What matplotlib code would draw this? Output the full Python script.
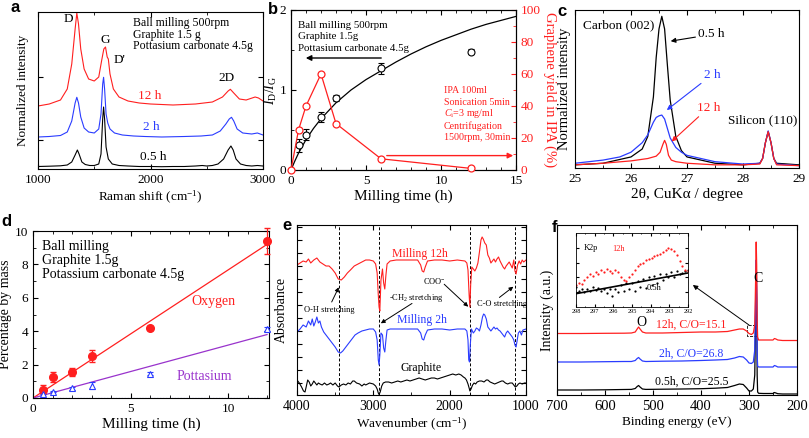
import matplotlib
matplotlib.use("Agg")
import matplotlib.pyplot as plt
import matplotlib.patches as patches
import numpy as np

plt.rcParams['font.family'] = ['Liberation Serif', 'DejaVu Serif']
plt.rcParams['mathtext.fontset'] = 'custom'
plt.rcParams['mathtext.rm'] = 'Liberation Serif'
plt.rcParams['mathtext.it'] = 'Liberation Serif:italic'
plt.rcParams['xtick.direction'] = 'in'
plt.rcParams['ytick.direction'] = 'in'
plt.rcParams['font.size'] = 9
plt.rcParams['axes.linewidth'] = 0.8

RED = '#ff1f1f'
BLUE = '#2a3cff'
PURPLE = '#9933cc'

# ---- (a) Raman spectra ----
raman_x_05 = [1000, 1100, 1200, 1260, 1300, 1330, 1350, 1365, 1390, 1420, 1460, 1500, 1540, 1560, 1575,
              1583, 1592, 1605, 1625, 1660, 1720, 1800, 1900, 2000, 2100, 2200, 2300, 2400, 2460, 2500,
              2550, 2600, 2650, 2690, 2715, 2735, 2760, 2800, 2850, 2900, 2950, 3000]
raman_y_05 = [2.5, 2.8, 3.2, 4, 7, 14, 19, 15, 7, 4.5, 3.5, 3.5, 5, 15, 50,
              62, 50, 22, 10, 5, 3.5, 3, 2.5, 2.5, 2.3, 2.5, 2.5, 3, 3.5, 3,
              3.5, 5, 10, 19, 23, 19, 10, 5, 3.5, 3, 3.5, 3]
raman_x_2 = [1000, 1100, 1200, 1260, 1300, 1330, 1345, 1360, 1380, 1410, 1450, 1500, 1540, 1560, 1575,
             1583, 1592, 1605, 1620, 1640, 1680, 1750, 1850, 1950, 2100, 2300, 2450, 2550, 2620, 2670,
             2700, 2720, 2740, 2770, 2820, 2900, 2950, 3000]
raman_y_2 = [32, 32.5, 33.5, 37, 48, 66, 71.7, 66, 52, 41, 37, 36, 40, 55, 85,
             91.7, 80, 55, 46, 40, 36, 34, 33, 32.5, 32, 32.5, 33, 34, 38, 45,
             50, 51.7, 48, 40, 36, 35, 36, 34]
raman_x_12 = [1000, 1100, 1200, 1260, 1300, 1330, 1345, 1360, 1380, 1410, 1450, 1500, 1540, 1565, 1585,
              1600, 1615, 1625, 1640, 1670, 1720, 1800, 1900, 2000, 2200, 2400, 2550, 2640, 2690, 2710,
              2740, 2790, 2850, 2930, 2960, 3000]
raman_y_12 = [63, 65, 69, 80, 105, 140, 156, 145, 120, 100, 90, 88, 92, 108, 120,
              122, 112, 110, 95, 80, 72, 68, 66, 65, 64, 65, 67, 72, 78, 79.7,
              76, 70, 69, 72, 71, 68]

# ---- (b) ID/IG and graphene yield ----
b_time = [0.5, 1, 2, 3, 6, 12]
b_idig = [0.31, 0.44, 0.66, 0.90, 1.27, 1.48]
b_idig_err = [0.08, 0.07, 0.06, 0.04, 0.07, 0.03]
b_fit_time = [0, 0.25, 0.5, 1, 1.5, 2, 3, 4, 5, 6, 7, 8, 9, 10, 11, 12, 13, 14, 15]
b_fit_idig = [0, 0.11, 0.21, 0.38, 0.52, 0.64, 0.84, 1.0, 1.13, 1.24, 1.35, 1.45, 1.54, 1.62, 1.69, 1.76,
              1.82, 1.87, 1.92]
b_yield_time = [0, 0.5, 1, 2, 3, 6, 12]
b_yield = [0, 25, 40, 60, 29, 7, 1]
b_conditions = ["Ball milling 500rpm", "Graphite 1.5g", "Pottasium carbonate 4.5g"]
b_ipa = ["IPA 100ml", "Sonication 5min", r"$C_\mathrm{i}$=3 mg/ml", "Centrifugation", "1500rpm, 30min"]

# ---- (c) XRD ----
xrd_x_05 = [25.0, 25.5, 26.0, 26.2, 26.3, 26.4, 26.45, 26.5, 26.55, 26.6, 26.65, 26.7, 26.8, 26.9, 27.0,
            27.5, 28.0, 28.3, 28.35, 28.4, 28.45, 28.5, 28.55, 28.6, 29.0]
xrd_y_05 = [0.02, 0.03, 0.07, 0.12, 0.2, 0.45, 0.7, 0.88, 0.96, 0.88, 0.65, 0.43, 0.2, 0.11, 0.07,
            0.03, 0.02, 0.03, 0.06, 0.16, 0.23, 0.16, 0.06, 0.03, 0.02]
xrd_x_2 = [25.0, 25.5, 25.8, 26.0, 26.2, 26.3, 26.4, 26.45, 26.5, 26.55, 26.6, 26.65, 26.7, 26.8, 26.9,
           27.0, 27.5, 28.0, 28.3, 28.35, 28.4, 28.45, 28.5, 28.55, 28.6, 29.0]
xrd_y_2 = [0.03, 0.05, 0.07, 0.1, 0.16, 0.21, 0.29, 0.32, 0.33, 0.335, 0.31, 0.25, 0.19, 0.13, 0.1,
           0.08, 0.04, 0.025, 0.03, 0.06, 0.16, 0.235, 0.16, 0.06, 0.025, 0.015]
xrd_x_12 = [25.0, 25.5, 26.0, 26.3, 26.45, 26.52, 26.57, 26.6, 26.63, 26.67, 26.72, 26.8, 27.0, 27.5,
            28.0, 28.3, 28.35, 28.4, 28.45, 28.5, 28.55, 28.6, 29.0]
xrd_y_12 = [0.02, 0.03, 0.045, 0.06, 0.075, 0.1, 0.15, 0.175, 0.15, 0.08, 0.05, 0.04, 0.03, 0.02,
            0.02, 0.025, 0.06, 0.16, 0.23, 0.16, 0.06, 0.02, 0.015]

# ---- (d) elemental content ----
d_time = [0.5, 1, 2, 3, 6, 12]
d_oxygen = [0.5, 1.26, 1.56, 2.5, 4.2, 9.4]
d_oxygen_err = [0.25, 0.3, 0.25, 0.35, 0.1, 0.75]
d_potassium = [0.26, 0.38, 0.58, 0.74, 1.46, 4.14]
d_potassium_err = [0.05, 0.05, 0.08, 0.2, 0.1, 0.1]
d_fit_time = [0, 12]
d_oxygen_fit = [0, 9.2]
d_potassium_fit = [0, 3.8]
d_conditions = ["Ball milling", "Graphite 1.5g", "Potassium carbonate 4.5g"]

# ---- (e) FTIR ----
ftir_x_12 = [4000, 3960, 3920, 3880, 3850, 3820, 3780, 3740, 3700, 3660, 3620, 3580, 3540, 3500, 3460,
             3420, 3380, 3340, 3300, 3250, 3200, 3150, 3100, 3050, 3000, 2970, 2950, 2935, 2925, 2915,
             2900, 2880, 2865, 2850, 2835, 2820, 2780, 2700, 2600, 2500, 2420, 2380, 2360, 2340, 2320,
             2290, 2200, 2100, 2000, 1900, 1800, 1775, 1760, 1745, 1735, 1725, 1710, 1690, 1670, 1650,
             1630, 1610, 1590, 1575, 1560, 1540, 1520, 1500, 1480, 1460, 1440, 1420, 1400, 1380, 1360,
             1340, 1320, 1300, 1280, 1260, 1240, 1220, 1200, 1180, 1160, 1145, 1130, 1110, 1090, 1070,
             1050, 1030, 1000]
ftir_y_12 = [130, 132, 134, 133, 136, 132, 135, 137, 133, 131, 129, 129, 126, 122, 116,
             115, 118, 122, 125, 129, 131, 133, 135, 135, 134, 131, 122, 100, 88, 84,
             115, 126, 112, 106, 120, 131, 134, 135, 135, 135, 135, 130, 124, 123, 128,
             134, 135, 135, 134, 135, 134, 132, 125, 100, 88, 110, 128, 126, 124, 127,
             132, 143, 155, 158, 156, 152, 150, 140, 137, 132, 134, 136, 133, 136, 138,
             134, 131, 128, 126, 129, 131, 133, 130, 127, 135, 124, 121, 130, 134, 131,
             135, 133, 135]
ftir_x_2 = [4000, 3960, 3920, 3880, 3850, 3820, 3800, 3780, 3760, 3740, 3720, 3700, 3680, 3650, 3620,
            3580, 3540, 3500, 3460, 3430, 3400, 3360, 3320, 3280, 3240, 3200, 3150, 3100, 3050, 3000,
            2970, 2950, 2935, 2925, 2915, 2900, 2880, 2865, 2850, 2835, 2820, 2780, 2700, 2600, 2500,
            2420, 2380, 2360, 2340, 2320, 2290, 2200, 2100, 2000, 1900, 1800, 1775, 1760, 1750, 1740,
            1730, 1715, 1690, 1670, 1650, 1630, 1610, 1590, 1570, 1555, 1540, 1520, 1500, 1480, 1460,
            1440, 1420, 1400, 1380, 1360, 1340, 1320, 1300, 1280, 1260, 1240, 1220, 1200, 1180, 1160,
            1145, 1130, 1115, 1100, 1080, 1060, 1040, 1000]
ftir_y_2 = [63, 66, 70, 68, 74, 70, 76, 69, 73, 78, 72, 74, 68, 63, 60,
            56, 52, 48, 43, 42, 44, 48, 52, 56, 60, 62, 64, 65, 66, 66,
            63, 55, 35, 30, 40, 62, 60, 47, 43, 55, 65, 66, 66, 66, 66,
            66, 62, 56, 55, 60, 65, 66, 66, 65, 66, 66, 64, 55, 35, 33,
            50, 66, 62, 64, 67, 66, 64, 70, 78, 81, 80, 76, 68, 66, 64,
            66, 68, 66, 67, 65, 64, 62, 60, 58, 62, 64, 62, 60, 58, 55,
            50, 48, 55, 62, 64, 60, 65, 66]
ftir_x_g = [4000, 3970, 3940, 3915, 3895, 3880, 3860, 3840, 3820, 3800, 3780, 3760, 3740, 3720, 3700,
            3670, 3640, 3610, 3580, 3560, 3530, 3500, 3470, 3450, 3420, 3390, 3360, 3330, 3300, 3270,
            3250, 3220, 3180, 3150, 3120, 3100, 3050, 3000, 2970, 2950, 2935, 2925, 2910, 2890, 2870,
            2840, 2800, 2760, 2720, 2680, 2640, 2600, 2560, 2520, 2480, 2440, 2400, 2360, 2320, 2280,
            2240, 2200, 2160, 2120, 2080, 2040, 2000, 1960, 1920, 1880, 1850, 1820, 1800, 1780, 1760,
            1745, 1735, 1720, 1700, 1680, 1660, 1640, 1610, 1580, 1550, 1520, 1500, 1470, 1440, 1410,
            1380, 1350, 1320, 1300, 1270, 1240, 1210, 1180, 1160, 1140, 1120, 1100, 1080, 1050, 1020,
            1000]
ftir_y_g = [15, 12, 8, 4, 3, 8, 15, 13, 9, 11, 14, 12, 10, 12, 11,
            10, 12, 10, 11, 12, 10, 12, 9, 8, 10, 11, 10, 12, 11, 14,
            14, 12, 11, 9, 11, 10, 12, 11, 9, 6, 2, 0.5, 3, 9, 12,
            13, 13, 12, 13, 14, 13, 14, 15, 14, 15, 16, 17, 16, 15, 16,
            17, 17, 16, 17, 18, 19, 20, 21, 20, 21, 20, 18, 17, 15, 11,
            7, 4, 6, 10, 12, 11, 13, 14, 14, 13, 15, 15, 13, 12, 11,
            12, 13, 14, 14, 12, 11, 12, 12, 10, 8, 9, 11, 12, 11, 12,
            12]
ftir_bands = [3450, 2920, 1740, 1140]

# ---- (f) XPS survey ----
xps_x = [700, 650, 600, 560, 545, 537, 533, 530, 527, 522, 515, 480, 440, 400, 370, 345, 330, 320, 312,
         305, 300, 295, 291, 288, 286, 285, 284, 283, 282, 280, 270, 260, 250, 247, 244, 240, 230, 220,
         210, 200]
xps_y_12 = [61.5, 61.5, 61.7, 61.8, 62, 63, 66, 68, 66, 63, 62, 62, 62.5, 63, 63, 63.5, 65, 66, 66,
            64, 61.5, 60.5, 62, 70, 120, 153, 130, 75, 58, 55, 55, 55, 55, 56.5, 56, 55, 54.5, 54.5,
            54.5, 54.5]
xps_y_2 = [33, 33, 33.3, 33.5, 33.5, 34.5, 36.5, 37.5, 36, 34, 33.5, 33.8, 34, 34.5, 35, 35.5, 37, 38.5, 38,
           35, 32, 31.5, 33, 45, 100, 135, 110, 40, 29, 28, 28, 28, 28, 29.5, 29, 28, 28, 28,
           28, 28]
xps_y_05 = [5, 5, 5.2, 5.5, 5.6, 6.5, 8.5, 9.5, 8, 6, 5.6, 5.8, 6, 6.3, 6.8, 7.5, 9.5, 11, 10.5,
            7, 4, 4, 6, 20, 90, 120, 95, 20, 3, 1.7, 1.5, 1.5, 1.5, 2.5, 2, 1.3, 1, 1,
            1, 1]

# inset K2p
k2p_x = [298.0, 297.85, 297.7, 297.55, 297.4, 297.25, 297.1, 296.95, 296.8, 296.65, 296.5, 296.35, 296.2,
         296.05, 295.9, 295.75, 295.6, 295.45, 295.3, 295.15, 295.0, 294.85, 294.7, 294.55, 294.4, 294.25,
         294.1, 293.95, 293.8, 293.65, 293.5, 293.35, 293.2, 293.05, 292.9, 292.75, 292.6, 292.45, 292.3,
         292.15, 292.0]
k2p_12 = [0.30, 0.33, 0.31, 0.36, 0.40, 0.44, 0.42, 0.47, 0.45, 0.50, 0.47, 0.52, 0.49,
          0.46, 0.50, 0.47, 0.40, 0.36, 0.35, 0.40, 0.45, 0.50, 0.55, 0.58, 0.60, 0.63,
          0.65, 0.66, 0.69, 0.70, 0.72, 0.75, 0.77, 0.80, 0.79, 0.76, 0.70, 0.62, 0.55,
          0.50, 0.48]
k2p_05 = [0.27, 0.22, 0.25, 0.20, 0.24, 0.22, 0.27, 0.23, 0.26, 0.21, 0.25, 0.19, 0.24,
          0.15, 0.25, 0.20, 0.30, 0.22, 0.32, 0.24, 0.33, 0.21, 0.35, 0.27, 0.38, 0.26,
          0.40, 0.30, 0.42, 0.33, 0.44, 0.36, 0.45, 0.40, 0.47, 0.41, 0.48, 0.45, 0.46,
          0.48, 0.50]
k2p_fit_x = [298, 292]
k2p_fit_05 = [0.18, 0.46]


def px_axes(left, top, right, bottom):
    W, H = 809, 438
    return fig.add_axes([left / W, 1 - bottom / H, (right - left) / W, (bottom - top) / H])


fig = plt.figure(figsize=(8.09, 4.38), dpi=100)

# ================= a =================
ax = px_axes(38, 12, 263, 169)
ax.plot(raman_x_05, raman_y_05, color='k', lw=0.8)
ax.plot(raman_x_2, raman_y_2, color=BLUE, lw=0.8)
ax.plot(raman_x_12, raman_y_12, color=RED, lw=0.8)
ax.set_xlim(1000, 3000)
ax.set_ylim(0, 157)
ax.set_xticks([1000, 2000, 3000])
ax.set_xticks([1500, 2500], minor=True)
ax.set_yticks([29, 92])
ax.set_yticklabels([])
ax.tick_params(which='both', top=True, right=True, labelsize=9.5)
ax.set_xlabel('Raman shift (cm$^{-1}$)', labelpad=2, fontsize=9.5)
ax.set_ylabel('Normalized intensity', labelpad=3, fontsize=9.5)
ax.text(1267, 150, 'D', ha='center', va='center', fontsize=9.5)
ax.text(1601, 129, 'G', ha='center', va='center', fontsize=9.5)
ax.text(1726, 109, "D'", ha='center', va='center', fontsize=9.5)
ax.text(2674, 91, '2D', ha='center', va='center', fontsize=9.5)
ax.text(1993, 73, '12 h', color=RED, ha='center', va='center', fontsize=9.5)
ax.text(2007, 42, '2 h', color=BLUE, ha='center', va='center', fontsize=9.5)
ax.text(2022, 12, '0.5 h', color='k', ha='center', va='center', fontsize=9.5)
for i, line in enumerate(["Ball milling 500rpm", "Graphite 1.5 g", "Pottasium carbonate 4.5g"]):
    ax.text(1844, 146 - 11.6 * i, line, ha='left', va='center', fontsize=8.5)

# ================= b =================
axb = px_axes(291, 10, 516, 170)
axb.plot(b_fit_time, b_fit_idig, color='k', lw=0.9)
axb.errorbar(b_time, b_idig, yerr=b_idig_err, fmt='o', mfc='white', mec='k', ecolor='k', ms=5,
             mew=0.8, elinewidth=0.8, capsize=2.5)
axb.set_xlim(0, 15)
axb.set_ylim(0, 2)
axb.set_xticks([0, 5, 10, 15])
axb.set_xticks(range(16), minor=True)
axb.set_yticks([0, 1, 2])
axb.set_yticks([0.5, 1.5], minor=True)
axb.tick_params(which='both', top=True, labelsize=9.5)
axb.set_xlabel('Milling time (h)', labelpad=2, fontsize=11)
axb.set_ylabel(r'$I_\mathrm{D}/I_\mathrm{G}$', labelpad=0, fontsize=10)
for i, line in enumerate(b_conditions):
    axb.text(0.5, 1.81 - 0.146 * i, line, ha='left', va='center', fontsize=7.8)
axb.annotate('', xy=(0.8, 1.4), xytext=(6.2, 1.4),
             arrowprops=dict(arrowstyle='-|>', color='k', lw=1.0, mutation_scale=8))

axr = axb.twinx()
axr.plot(b_yield_time, b_yield, color=RED, lw=0.9, marker='o', mfc='white', mec=RED, ms=5, mew=0.9,
         clip_on=False, zorder=5)
axr.set_ylim(0, 100)
axr.set_yticks([0, 20, 40, 60, 80, 100])
axr.set_yticks(range(10, 100, 20), minor=True)
axr.tick_params(axis='y', which='both', direction='in', labelcolor=RED, colors=RED, labelsize=9.5)
for lab in axr.get_yticklabels():
    lab.set_color(RED)
axr.set_ylabel('Graphene yield in IPA (%)', color=RED, rotation=270, labelpad=11, fontsize=10.5)
axr.annotate('', xy=(15, 9), xytext=(6.2, 9),
             arrowprops=dict(arrowstyle='-|>', color=RED, lw=1.0, mutation_scale=8))
for i, line in enumerate(b_ipa):
    axr.text(10.2, 49.6 - 7.3 * i, line, color=RED, ha='left', va='center', fontsize=7.2)

# ================= c =================
axc = px_axes(575, 10, 799, 168)
axc.plot(xrd_x_05, xrd_y_05, color='k', lw=0.9)
axc.plot(xrd_x_2, xrd_y_2, color=BLUE, lw=0.9)
axc.plot(xrd_x_12, xrd_y_12, color=RED, lw=0.9)
axc.set_xlim(25, 29)
axc.set_ylim(0, 1)
axc.set_xticks([25, 26, 27, 28, 29])
axc.set_xticks(np.arange(25, 29, 0.5), minor=True)
axc.set_yticks([])
axc.tick_params(which='both', top=True, labelsize=9.5)
axc.set_xlabel(r'2θ, CuKα / degree', labelpad=2, fontsize=11)
axc.set_ylabel('Normalized intensity', labelpad=3, fontsize=10.5)
axc.text(25.15, 0.905, 'Carbon (002)', ha='left', va='center', fontsize=9.5)
axc.text(27.73, 0.30, 'Silicon (110)', ha='left', va='center', fontsize=9.5)
axc.annotate('0.5 h', xy=(26.66, 0.80), xytext=(27.2, 0.845), ha='left', va='center', fontsize=9.5,
             arrowprops=dict(arrowstyle='-|>', color='k', lw=0.8, mutation_scale=7, shrinkA=0))
axc.annotate('2 h', xy=(26.6, 0.356), xytext=(27.3, 0.59), ha='left', va='center', fontsize=9.5,
             color=BLUE, arrowprops=dict(arrowstyle='-|>', color=BLUE, lw=0.8, mutation_scale=7, shrinkA=0))
axc.annotate('12 h', xy=(26.69, 0.156), xytext=(27.17, 0.38), ha='left', va='center', fontsize=9.5,
             color=RED, arrowprops=dict(arrowstyle='-|>', color=RED, lw=0.8, mutation_scale=7, shrinkA=0))

# ================= d =================
axd = px_axes(33, 231, 269, 398)
axd.axhline(0, color=BLUE, lw=0.8, ls=':')
axd.plot(d_fit_time, d_oxygen_fit, color=RED, lw=0.9)
axd.plot(d_fit_time, d_potassium_fit, color=PURPLE, lw=0.9)
axd.errorbar(d_time, d_oxygen, yerr=d_oxygen_err, fmt='o', color=RED, ms=5.5, elinewidth=0.9, capsize=2.5,
             clip_on=False, zorder=5)
axd.errorbar(d_time, d_potassium, yerr=d_potassium_err, fmt='^', mfc='white', mec=BLUE, ecolor=BLUE, ms=5,
             mew=0.8, elinewidth=0.8, capsize=2, clip_on=False, zorder=5)
axd.set_xlim(0, 12.1)
axd.set_ylim(0, 10)
axd.set_xticks([0, 5, 10])
axd.set_xticks(range(13), minor=True)
axd.set_yticks([0, 2, 4, 6, 8, 10])
axd.set_yticks(range(1, 10, 2), minor=True)
axd.tick_params(which='both', top=True, right=True, labelsize=9.5)
axd.set_xlabel('Milling time (h)', labelpad=2, fontsize=11)
axd.set_ylabel('Percentage by mass', labelpad=2, fontsize=10)
for i, line in enumerate(d_conditions):
    axd.text(0.45, 9.1 - 0.84 * i, line, ha='left', va='center', fontsize=10)
axd.text(8.1, 5.77, 'Oxygen', color=RED, ha='left', va='center', fontsize=10)
axd.text(7.35, 1.29, 'Pottasium', color=PURPLE, ha='left', va='center', fontsize=10)

# ================= e =================
axe = px_axes(297, 225, 526, 395)
for xb in ftir_bands:
    axe.axvline(xb, color='k', lw=0.7, ls=(0, (3, 2)))
axe.plot(ftir_x_g, ftir_y_g, color='k', lw=0.8)
axe.plot(ftir_x_2, ftir_y_2, color=BLUE, lw=0.8)
axe.plot(ftir_x_12, ftir_y_12, color=RED, lw=0.8)
axe.set_xlim(4000, 1000)
axe.set_ylim(0, 170)
axe.set_xticks([4000, 3000, 2000, 1000])
axe.set_xticks([3500, 2500, 1500], minor=True)
axe.set_yticks(np.arange(11.7, 170, 13))
axe.set_yticklabels([])
axe.tick_params(which='both', top=True, right=True)
axe.tick_params(axis='x', labelsize=10)
axe.set_xlabel('Wavenumber (cm$^{-1}$)', labelpad=2, fontsize=9.5)
axe.set_ylabel('Absorbance', labelpad=3, fontsize=10)
axe.text(2390, 141, 'Milling 12h', color=RED, ha='center', va='center', fontsize=8.5)
axe.text(2369, 75, 'Milling 2h', color=BLUE, ha='center', va='center', fontsize=8.5)
axe.text(2369, 27, 'Graphite', color='k', ha='center', va='center', fontsize=8.5)
small = dict(arrowstyle='-|>', color='k', lw=0.7, mutation_scale=6, shrinkA=1, shrinkB=0)
axe.annotate('O-H stretching', xy=(3453, 107.7), xytext=(3571, 85), ha='center', va='center', fontsize=6,
             arrowprops=dict(small, relpos=(0.5, 1)))
axe.annotate('', xy=(2902, 71.7), xytext=(2478, 92.3), arrowprops=small)
axe.text(2434, 97, '-CH$_2$ stretching', ha='center', va='center', fontsize=6)
axe.annotate('', xy=(1757, 88.3), xytext=(2085, 111.7), arrowprops=small)
axe.text(2194, 114.3, 'COO$^{-}$', ha='center', va='center', fontsize=6)
axe.annotate('', xy=(1166, 108.3), xytext=(1363, 96.7), arrowprops=small)
axe.text(1319, 91, 'C-O stretching', ha='center', va='center', fontsize=6)

# ================= f =================
axf = px_axes(557, 225, 797, 395)
axf.plot(xps_x, xps_y_05, color='k', lw=0.9)
axf.plot(xps_x, xps_y_2, color=BLUE, lw=0.9)
axf.plot(xps_x, xps_y_12, color=RED, lw=0.9)
axf.set_xlim(700, 200)
axf.set_ylim(0, 170)
axf.set_xticks([700, 600, 500, 400, 300, 200])
axf.set_xticks(range(650, 200, -100), minor=True)
axf.set_yticks([])
axf.tick_params(which='both', top=True)
axf.tick_params(axis='x', labelsize=10.5)
axf.set_xlabel('Binding energy (eV)', labelpad=2, fontsize=9.5)
axf.set_ylabel('Intensity (a.u.)', labelpad=2, fontsize=10)
axf.text(524, 72, 'O', ha='center', va='center', fontsize=10)
axf.text(281, 117, 'C', ha='center', va='center', fontsize=10)
axf.text(420, 70, '12h, C/O=15.1', color=RED, ha='center', va='center', fontsize=8.5)
axf.text(420, 41, '2h, C/O=26.8', color=BLUE, ha='center', va='center', fontsize=8.5)
axf.text(420, 13.3, '0.5h, C/O=25.5', color='k', ha='center', va='center', fontsize=8.5)
axf.add_patch(patches.Rectangle((283, 59), 21, 11, fill=False, ls='--', lw=0.6, color='k'))
axf.annotate('', xy=(417, 110), xytext=(300, 70),
             arrowprops=dict(arrowstyle='-|>', color='k', lw=0.7, mutation_scale=7, shrinkA=0, shrinkB=0))

axi = px_axes(576, 233, 688, 307)
axi.plot(k2p_fit_x, k2p_fit_05, color='k', lw=1.2)
axi.plot(k2p_x, k2p_05, 'o', color='k', ms=1.6, mew=0)
axi.plot(k2p_x, k2p_12, 'o', color=RED, ms=1.6, mew=0)
axi.set_xlim(298, 292)
axi.set_ylim(0, 1)
axi.set_xticks([298, 297, 296, 295, 294, 293, 292])
axi.set_xticks(np.arange(297.5, 292, -1), minor=True)
axi.set_yticks([0.2, 0.4, 0.6, 0.8])
axi.set_yticklabels([])
axi.tick_params(which='both', top=True, right=True, labelsize=4.5, pad=1.5, length=2)
axi.tick_params(which='minor', length=1)
for s in axi.spines.values():
    s.set_linewidth(0.6)
axi.text(297.6, 0.80, 'K2p', ha='left', va='center', fontsize=6)
axi.text(295.7, 0.78, '12h', color=RED, ha='center', va='center', fontsize=6)
axi.text(293.8, 0.26, '0.5h', ha='center', va='center', fontsize=6)

# panel letters
for letter, (lx, ly) in zip('abcdef', [(15, 8), (273, 9), (562, 12), (6, 221), (287, 225), (554, 227)]):
    fig.text(lx / 809, 1 - ly / 438, letter, family='Liberation Sans', fontweight='bold', fontsize=12,
             ha='center', va='center')

fig.savefig('out.png', dpi=100)
